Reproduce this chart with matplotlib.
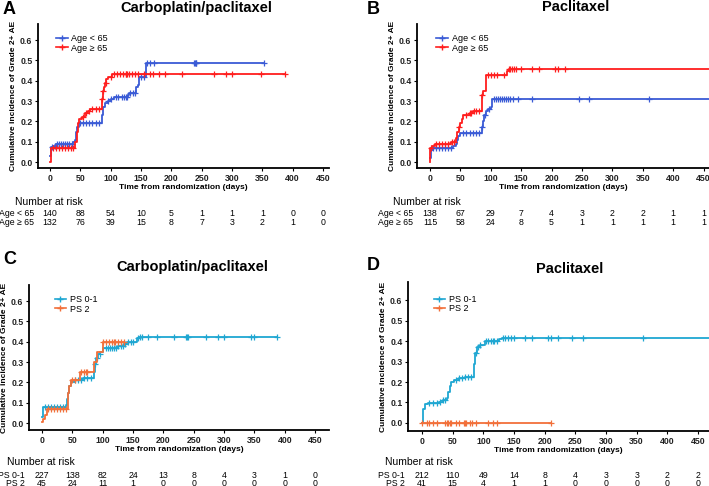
import numpy as np
import matplotlib
matplotlib.use("Agg")
import matplotlib.pyplot as plt
import matplotlib.transforms as mtransforms
from matplotlib.lines import Line2D

plt.rcParams['font.family'] = ['Liberation Sans', 'DejaVu Sans']

BLUE = "#3A5BD6"
RED = "#FF1E1E"
CYAN = "#1FA7D2"
ORANGE = "#F2703A"

# ---------------- Data ----------------
# Panel A: Carboplatin/paclitaxel by age
a_young_t = [0, 2, 5, 10, 38, 42, 43, 45, 48, 85, 87, 90, 95, 100, 105, 128, 130, 142, 145, 147, 158]
a_young_y = [0.03, 0.075, 0.08, 0.09, 0.10, 0.11, 0.15, 0.17, 0.19, 0.23, 0.27, 0.29, 0.30, 0.31, 0.32, 0.33, 0.34, 0.37, 0.38, 0.42, 0.485]
a_young_end = 352
a_young_cens = [3, 8, 12, 15, 18, 22, 25, 28, 32, 36, 50, 55, 60, 65, 70, 75, 80, 96, 101, 108, 112, 118, 122, 125,
                127, 132, 136, 140, 150, 155, 160, 165, 172, 238, 239, 240, 241, 352]

a_old_t = [0, 1, 42, 44, 46, 48, 52, 57, 62, 66, 85, 87, 89, 91, 93, 95, 102]
a_old_y = [0.0, 0.07, 0.10, 0.15, 0.19, 0.21, 0.22, 0.24, 0.25, 0.26, 0.31, 0.35, 0.37, 0.39, 0.41, 0.42, 0.435]
a_old_end = 388
a_old_cens = [5, 10, 15, 20, 25, 30, 35, 38, 55, 60, 65, 70, 75, 80, 86, 88, 92, 100, 105, 110, 115, 120, 125, 126,
              127, 130, 135, 140, 145, 155, 165, 170, 180, 190, 217, 270, 290, 300, 347, 388]

# Panel B: Paclitaxel by age
b_young_t = [0, 1, 5, 38, 42, 44, 46, 49, 85, 87, 89, 92, 95, 100, 102]
b_young_y = [0.02, 0.06, 0.07, 0.08, 0.09, 0.11, 0.13, 0.145, 0.17, 0.20, 0.23, 0.25, 0.26, 0.27, 0.31]
b_young_end = 480
b_young_cens = [5, 10, 15, 20, 25, 30, 35, 55, 60, 65, 70, 75, 80, 86, 90, 97, 105, 108, 112, 115, 118, 122, 125,
                128, 132, 137, 145, 168, 245, 262, 360]

b_old_t = [0, 0.5, 3, 8, 35, 43, 45, 47, 50, 52, 55, 65, 70, 85, 88, 92, 127, 130]
b_old_y = [0.0, 0.07, 0.08, 0.09, 0.10, 0.12, 0.15, 0.17, 0.19, 0.21, 0.23, 0.24, 0.25, 0.33, 0.35, 0.43, 0.45, 0.46]
b_old_end = 480
b_old_cens = [2, 10, 15, 20, 25, 30, 36, 40, 48, 60, 65, 68, 72, 75, 80, 86, 95, 100, 105, 110, 122, 130, 132, 135,
              138, 142, 150, 168, 180, 205, 210, 222]

# Panel C: Carboplatin/paclitaxel by PS
c_ps01_t = [0, 2, 40, 42, 43, 45, 48, 55, 68, 85, 87, 89, 92, 96, 100, 125, 135, 140, 157, 160]
c_ps01_y = [0.03, 0.08, 0.09, 0.12, 0.15, 0.18, 0.20, 0.21, 0.22, 0.25, 0.29, 0.32, 0.34, 0.35, 0.37, 0.38, 0.39,
            0.40, 0.42, 0.425]
c_ps01_end = 388
c_ps01_cens = [5, 10, 15, 20, 25, 30, 35, 55, 60, 65, 70, 75, 80, 88, 90, 95, 105, 108, 112, 115, 118, 122, 126, 130,
               133, 137, 142, 146, 150, 158, 162, 165, 175, 190, 217, 238, 239, 240, 270, 290, 300, 345, 350, 388]

c_ps2_t = [0, 2, 5, 8, 43, 45, 48, 63, 85, 90, 100]
c_ps2_y = [0.005, 0.02, 0.04, 0.07, 0.15, 0.18, 0.21, 0.25, 0.30, 0.35, 0.40]
c_ps2_end = 135
c_ps2_cens = [10, 15, 20, 25, 30, 35, 40, 50, 55, 65, 70, 72, 75, 100, 105, 110, 115, 118, 120, 125, 130, 135]

# Panel D: Paclitaxel by PS
d_ps01_t = [0, 1, 2, 5, 10, 28, 35, 40, 43, 45, 48, 52, 60, 70, 85, 87, 90, 95, 102, 125, 130]
d_ps01_y = [0.0, 0.03, 0.07, 0.09, 0.095, 0.10, 0.11, 0.12, 0.15, 0.18, 0.20, 0.21, 0.22, 0.225, 0.29, 0.34, 0.37,
            0.38, 0.40, 0.41, 0.415]
d_ps01_end = 480
d_ps01_cens = [12, 18, 25, 30, 35, 38, 55, 60, 65, 70, 75, 80, 88, 92, 95, 105, 108, 112, 115, 118, 122, 132, 135,
               140, 145, 150, 168, 180, 205, 210, 222, 245, 262, 360]

d_ps2_t = [0]
d_ps2_y = [0.0]
d_ps2_end = 210
d_ps2_cens = [0, 8, 12, 18, 25, 38, 40, 42, 45, 48, 55, 60, 68, 70, 72, 78, 82, 88, 108, 115, 122, 210]

risk_times = [0, 50, 100, 150, 200, 250, 300, 350, 400, 450]
a_risk_young = [140, 88, 54, 10, 5, 1, 1, 1, 0, 0]
a_risk_old = [132, 76, 39, 15, 8, 7, 3, 2, 1, 0]
b_risk_young = [138, 67, 29, 7, 4, 3, 2, 2, 1, 1]
b_risk_old = [115, 58, 24, 8, 5, 1, 1, 1, 1, 1]
c_risk_ps01 = [227, 138, 82, 24, 13, 8, 4, 3, 1, 0]
c_risk_ps2 = [45, 24, 11, 1, 0, 0, 0, 0, 0, 0]
d_risk_ps01 = [212, 110, 49, 14, 8, 4, 3, 3, 2, 2]
d_risk_ps2 = [41, 15, 4, 1, 1, 0, 0, 0, 0, 0]

yticks = [0.0, 0.1, 0.2, 0.3, 0.4, 0.5, 0.6]
xticks = [0, 50, 100, 150, 200, 250, 300, 350, 400, 450]

# ---------------- Figure ----------------
W, H = 709, 486
fig = plt.figure(figsize=(W / 100, H / 100), dpi=100)


def fx(px):
    return px / W


def fy(py):
    return 1 - py / H


def make_axes(left, right, top, bottom, xlim, ylim):
    ax = fig.add_axes([fx(left), fy(bottom), (right - left) / W, (bottom - top) / H])
    ax.set_xlim(*xlim)
    ax.set_ylim(*ylim)
    for s in ['top', 'right']:
        ax.spines[s].set_visible(False)
    for s in ['left', 'bottom']:
        ax.spines[s].set_linewidth(1.3)
        ax.spines[s].set_color('black')
    ax.set_xticks(xticks)
    ax.set_yticks(yticks)
    ax.set_yticklabels([f"{v:.1f}" for v in yticks])
    ax.tick_params(direction='out', length=2.5, width=0.8, labelsize=6.3, pad=1.5, colors='black')
    for lab in ax.get_xticklabels() + ax.get_yticklabels():
        lab.set_fontweight('bold')
        lab.set_color('#222222')
    ax.set_xlabel("Time from randomization (days)", fontsize=6.0, fontweight='bold', labelpad=1)
    ax.set_ylabel("Cumulative incidence of Grade 2+ AE", fontsize=6.0, fontweight='bold', labelpad=2.5)
    return ax


def draw_curve(ax, t, y, end, cens, color):
    xs = list(t) + [end]
    ys = list(y) + [y[-1]]
    ax.plot(xs, ys, drawstyle='steps-post', color=color, lw=1.3, clip_on=True)
    tt = np.array(t)
    yy = np.array(y)
    cy = [yy[max(np.searchsorted(tt, c, side='right') - 1, 0)] for c in cens]
    ax.plot(cens, cy, ls='none', marker='+', ms=4.5, mew=0.9, color=color, clip_on=True)


def legend(ax, labels, colors, anchor):
    handles = [Line2D([0], [0], color=c, lw=1.2, marker='+', ms=5, mew=1.0) for c in colors]
    ax.legend(handles, labels, loc='upper left', bbox_to_anchor=anchor, frameon=False, fontsize=6.5,
              handlelength=1.3, handletextpad=0.4, labelspacing=0.05, borderpad=0, borderaxespad=0)


def risk_table(ax, rows, labels, head_x, label_right, head_y, row_ys):
    fig.text(fx(head_x), fy(head_y), "Number at risk", fontsize=7.5, ha='left', va='center')
    trans = mtransforms.blended_transform_factory(ax.transData, fig.transFigure)
    for vals, lab, ry in zip(rows, labels, row_ys):
        fig.text(fx(label_right), fy(ry), lab, fontsize=6.3, ha='right', va='center')
        for t, v in zip(risk_times, vals):
            fig.text(t, fy(ry), str(v), transform=trans, fontsize=6.3, ha='center', va='center')


# Panel A
axA = make_axes(38, 329, 24, 168, (-19.8, 459.9), (-0.0295, 0.679))
draw_curve(axA, a_young_t, a_young_y, a_young_end, a_young_cens, BLUE)
draw_curve(axA, a_old_t, a_old_y, a_old_end, a_old_cens, RED)
legend(axA, ["Age < 65", "Age \u2265 65"], [BLUE, RED], (0.062, 0.93))
risk_table(axA, [a_risk_young, a_risk_old], ["Age < 65", "Age \u2265 65"], 15, 34, 202, [214, 222])
fig.text(fx(3), fy(9), "A", fontsize=13, fontweight='bold', ha='left', va='center')
fig.text(fx(196), fy(8), "Carboplatin/paclitaxel", fontsize=10.5, fontweight='bold', ha='center', va='center')

# Panel B
axB = make_axes(417, 709, 24, 168, (-21.4, 459.0), (-0.0295, 0.679))
draw_curve(axB, b_young_t, b_young_y, b_young_end, b_young_cens, BLUE)
draw_curve(axB, b_old_t, b_old_y, b_old_end, b_old_cens, RED)
legend(axB, ["Age < 65", "Age \u2265 65"], [BLUE, RED], (0.066, 0.93))
risk_table(axB, [b_risk_young, b_risk_old], ["Age < 65", "Age \u2265 65"], 393, 413, 202, [214, 222])
fig.text(fx(367), fy(9), "B", fontsize=13, fontweight='bold', ha='left', va='center')
fig.text(fx(576), fy(7), "Paclitaxel", fontsize=10.5, fontweight='bold', ha='center', va='center')

# Panel C
axC = make_axes(29, 329, 285, 430, (-21.4, 473.0), (-0.034, 0.679))
draw_curve(axC, c_ps01_t, c_ps01_y, c_ps01_end, c_ps01_cens, CYAN)
draw_curve(axC, c_ps2_t, c_ps2_y, c_ps2_end, c_ps2_cens, ORANGE)
legend(axC, ["PS 0-1", "PS 2"], [CYAN, ORANGE], (0.085, 0.93))
risk_table(axC, [c_risk_ps01, c_risk_ps2], ["PS 0-1", "PS 2"], 7, 25, 462, [475, 483])
fig.text(fx(3), fy(260), "C", fontsize=13, fontweight='bold', ha='left', va='center')
fig.text(fx(192), fy(267), "Carboplatin/paclitaxel", fontsize=10.5, fontweight='bold', ha='center', va='center')

# Panel D
axD = make_axes(408, 709, 282, 431, (-22.8, 468.0), (-0.04, 0.69))
draw_curve(axD, d_ps01_t, d_ps01_y, d_ps01_end, d_ps01_cens, CYAN)
draw_curve(axD, d_ps2_t, d_ps2_y, d_ps2_end, d_ps2_cens, ORANGE)
legend(axD, ["PS 0-1", "PS 2"], [CYAN, ORANGE], (0.085, 0.915))
risk_table(axD, [d_risk_ps01, d_risk_ps2], ["PS 0-1", "PS 2"], 385, 405, 462, [475, 483])
fig.text(fx(367), fy(265), "D", fontsize=13, fontweight='bold', ha='left', va='center')
fig.text(fx(570), fy(269), "Paclitaxel", fontsize=10.5, fontweight='bold', ha='center', va='center')

fig.savefig("out.png", dpi=100)
